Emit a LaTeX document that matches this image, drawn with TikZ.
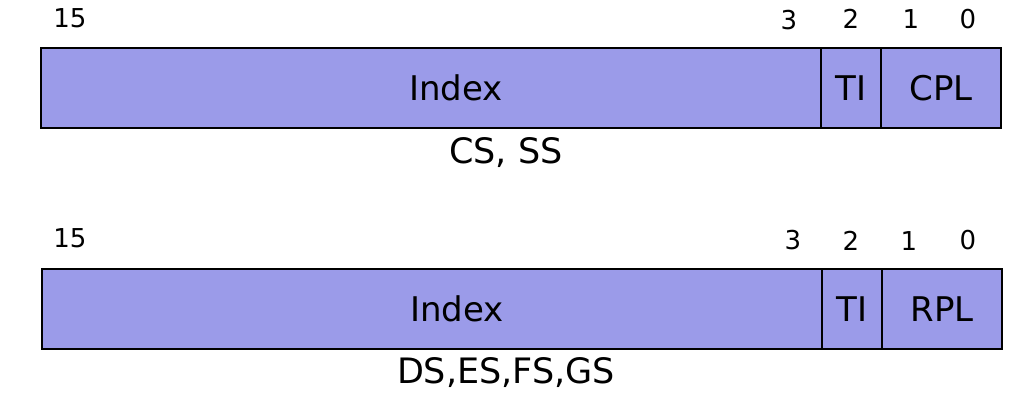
\documentclass[tikz,border=0pt]{standalone}
\usepackage{fontspec}
\setmainfont{DejaVu Sans}
\usetikzlibrary{positioning}
\definecolor{segfill}{RGB}{155,155,233}
\tikzset{
  cellfont/.style={font=\fontsize{34}{40}\selectfont},
  cell/.style={anchor=west,draw,fill=segfill,line width=1.5pt,minimum height=80pt,inner sep=0,outer sep=0,cellfont},
  bitno/.style={font=\fontsize{26}{30}\selectfont},
  regname/.style={font=\fontsize{35}{42}\selectfont}
}
\begin{document}
\begin{tikzpicture}[x=1pt,y=-1pt]
\useasboundingbox (0,0) rectangle (1028,408);

% CS, SS
\node[cell,minimum width=780pt,label={[cellfont,xshift=25pt]center:Index}] (idx1) at (41,88) {};
\node[cell,minimum width=60pt] (ti1) at (idx1.east) {TI};
\node[cell,minimum width=120pt] (cpl1) at (ti1.east) {CPL};
\node[regname] (cap1) at (506,153) {CS, SS};

\node[bitno] (b15a) at (70,18) {15};
\node[bitno] (b3a) at (789,20) {3};
\node[bitno] (b2a) at (851,19) {2};
\node[bitno] (b1a) at (911,19) {1};
\node[bitno] (b0a) at (968,19) {0};

% DS, ES, FS, GS
\node[cell,minimum width=780pt,label={[cellfont,xshift=25pt]center:Index}] (idx2) at (42,309) {};
\node[cell,minimum width=60pt] (ti2) at (idx2.east) {TI};
\node[cell,minimum width=120pt] (rpl2) at (ti2.east) {RPL};
\node[regname] (cap2) at (506,373) {DS,ES,FS,GS};

\node[bitno] (b15b) at (70,238) {15};
\node[bitno] (b3b) at (793,240) {3};
\node[bitno] (b2b) at (851,241) {2};
\node[bitno] (b1b) at (909,241) {1};
\node[bitno] (b0b) at (968,240) {0};

\end{tikzpicture}
\end{document}
